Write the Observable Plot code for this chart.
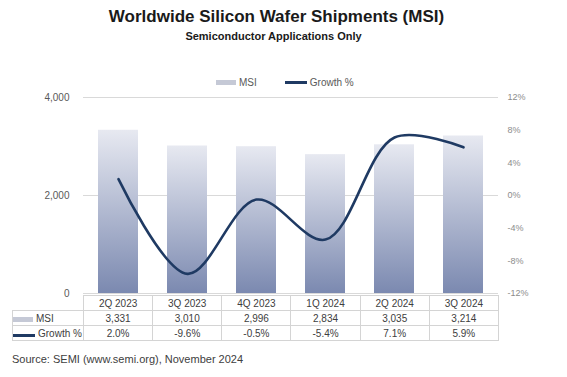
<!DOCTYPE html>
<html><head><meta charset="utf-8">
<script src="https://cdn.jsdelivr.net/npm/d3@7"></script>
<script src="https://cdn.jsdelivr.net/npm/@observablehq/plot@0.6"></script>
<style>
body{margin:0;background:#fff;font-family:"Liberation Sans",Arial,sans-serif;}
#wrap{position:relative;width:567px;height:377px;overflow:hidden;background:#fff;}
.abs{position:absolute;}
#title{left:0;top:7px;width:553px;text-align:center;font-weight:bold;font-size:17px;color:#1a1a1a;}
#sub{left:0;top:30px;width:547px;text-align:center;font-weight:bold;font-size:11px;color:#1a1a1a;}
#legend{top:77px;left:216px;font-size:10px;color:#595959;display:flex;align-items:center;white-space:nowrap;}
.sw{display:inline-block;margin-right:3px;}
#chart{left:0;top:88px;}
#tbl{left:12px;top:295px;border-collapse:collapse;table-layout:fixed;font-size:10px;color:#404040;}
#tbl td{border:1px solid #d4d4d4;height:14px;padding:0;text-align:center;white-space:nowrap;}
#tbl td.lab{text-align:left;}
#tbl td.corner{border-top:hidden;border-left:hidden;}
#source{left:12px;top:353px;font-size:11px;color:#404040;}
</style></head>
<body>
<div id="wrap">
  <div id="title" class="abs"></div>
  <div id="sub" class="abs"></div>
  <div id="legend" class="abs"></div>
  <div id="chart" class="abs"></div>
  <table id="tbl" class="abs"></table>
  <div id="source" class="abs"></div>
</div>
<script>
const titleText = "Worldwide Silicon Wafer Shipments (MSI)";
const subtitleText = "Semiconductor Applications Only";
const sourceText = "Source: SEMI (www.semi.org), November 2024";
const quarters = ["2Q 2023","3Q 2023","4Q 2023","1Q 2024","2Q 2024","3Q 2024"];
const msi = [3331, 3010, 2996, 2834, 3035, 3214];
const growth = [2.0, -9.6, -0.5, -5.4, 7.1, 5.9];
const msiTicks = [0, 2000, 4000];
const growthTicks = [-12, -8, -4, 0, 4, 8, 12];
const seriesNames = ["MSI", "Growth %"];
const barColor = "#c5c9d6";
const lineColor = "#1f3a63";

document.getElementById("title").textContent = titleText;
document.getElementById("sub").textContent = subtitleText;
document.getElementById("source").textContent = sourceText;

const swatch = (i) => i === 0
  ? `<span class="sw" style="width:20px;height:5px;background:${barColor}"></span>`
  : `<span class="sw" style="width:22px;height:2.5px;background:${lineColor}"></span>`;
document.getElementById("legend").innerHTML =
  `${swatch(0)}<span style="margin-right:28px">${seriesNames[0]}</span>${swatch(1)}<span>${seriesNames[1]}</span>`;

const g2y = d3.scaleLinear([-12, 12], [0, 4000]);
const data = quarters.map((q, i) => ({q, msi: msi[i], growth: growth[i]}));

const chart = Plot.plot({
  width: 567, height: 212, marginTop: 9, marginBottom: 7, marginLeft: 83, marginRight: 69,
  style: {fontFamily: "Liberation Sans, Arial, sans-serif", background: "transparent", overflow: "visible"},
  x: {domain: quarters, paddingInner: 0.42, paddingOuter: 0.21, axis: null},
  y: {domain: [0, 4000], axis: null},
  marks: [
    Plot.gridY(msiTicks, {stroke: "#d9d9d9", strokeOpacity: 1}),
    Plot.barY(data, {x: "q", y: "msi", fill: "url(#barGrad)"}),
    Plot.line(data, {x: "q", y: d => g2y(d.growth), curve: "catmull-rom", stroke: lineColor, strokeWidth: 2.6}),
    Plot.axisY(msiTicks, {anchor: "left", label: null, tickSize: 0, tickPadding: 14, fontSize: 10, fill: "#595959", tickFormat: d3.format(",")}),
    Plot.axisY(growthTicks.map(g2y), {anchor: "right", label: null, tickSize: 0, tickPadding: 9, fontSize: 9, fill: "#8c8c8c", tickFormat: v => Math.round(g2y.invert(v)) + "%"})
  ]
});
d3.select(chart).insert("defs", ":first-child").html(
  `<linearGradient id="barGrad" x1="0" y1="0" x2="0" y2="1">
     <stop offset="0" stop-color="#e7e9f1"/>
     <stop offset="1" stop-color="#7b89b0"/>
   </linearGradient>`);
document.getElementById("chart").appendChild(chart);

// data table aligned with the band scale
const xs = chart.scale("x");
const step = (xs.range[1] - xs.range[0]) / quarters.length;
const labW = xs.range[0] - 12;
const fmtMsi = d3.format(",");
let html = `<colgroup><col style="width:${labW}px">` + quarters.map(() => `<col style="width:${step}px">`).join("") + `</colgroup>`;
html += `<tr><td class="corner"></td>` + quarters.map(q => `<td>${q}</td>`).join("") + `</tr>`;
html += `<tr><td class="lab">${swatch(0).replace('margin-right:3px','')}<span>${seriesNames[0]}</span></td>` + msi.map(v => `<td>${fmtMsi(v)}</td>`).join("") + `</tr>`;
html += `<tr><td class="lab">${swatch(1)}<span>${seriesNames[1]}</span></td>` + growth.map(v => `<td>${v.toFixed(1)}%</td>`).join("") + `</tr>`;
const tbl = document.getElementById("tbl");
tbl.innerHTML = html;
tbl.style.width = (labW + step * quarters.length) + "px";
</script>
</body></html>
